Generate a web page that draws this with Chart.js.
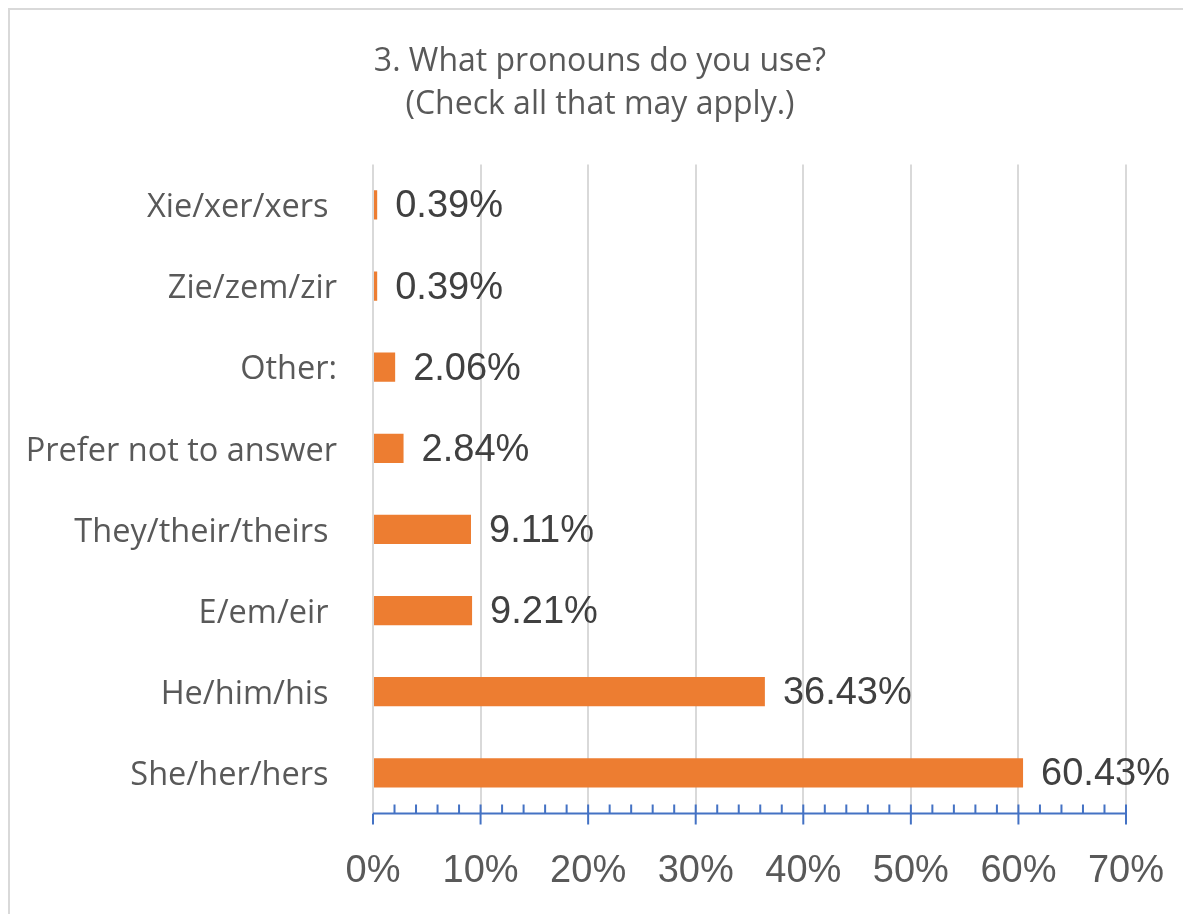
<!DOCTYPE html>
<html>
<head>
<meta charset="utf-8">
<script src="https://cdn.jsdelivr.net/npm/chart.js@4/dist/chart.umd.min.js"></script>
<style>
  html, body { margin: 0; padding: 0; background: #fff; overflow: hidden; }
  #frame { position: absolute; left: 8px; top: 8px; width: 1200px; height: 950px; border: 2px solid #d9d9d9; box-sizing: border-box; }
  #chart { position: absolute; left: 0; top: 0; }
</style>
</head>
<body>
<div id="frame"></div>
<canvas id="chart" width="1183" height="914"></canvas>
<script>
const titleLines = ['3. What pronouns do you use?', '(Check all that may apply.)']
// some of the original labels carry a trailing space
const categories = ['Xie/xer/xers ', 'Zie/zem/zir', 'Other:', 'Prefer not to answer', 'They/their/theirs ', 'E/em/eir ', 'He/him/his ', 'She/her/hers ']
const percentages = [0.39, 0.39, 2.06, 2.84, 9.11, 9.21, 36.43, 60.43]
const axisMax = 70

const orange = '#ED7D31'
const axisBlue = '#4472C4'

// value labels right of each bar
const barLabels = {
    id: 'barLabels',
    afterDatasetsDraw(chart) {
        const ctx = chart.ctx
        const meta = chart.getDatasetMeta(0)
        ctx.save()
        ctx.font = '38px "Liberation Sans", Arial, sans-serif'
        ctx.fillStyle = '#404040'
        ctx.textAlign = 'left'
        ctx.textBaseline = 'middle'
        meta.data.forEach((bar, i) => {
            ctx.fillText(percentages[i].toFixed(2) + '%', bar.x + 18, bar.y + 2)
        })
        ctx.restore()
    }
}

// blue axis line with major + minor ticks
const axisTicks = {
    id: 'axisTicks',
    afterDraw(chart) {
        const ctx = chart.ctx
        const x = chart.scales.x
        const y0 = chart.chartArea.bottom
        ctx.save()
        ctx.strokeStyle = axisBlue
        ctx.lineWidth = 2
        ctx.beginPath()
        ctx.moveTo(x.getPixelForValue(0), y0)
        ctx.lineTo(x.getPixelForValue(axisMax), y0)
        for (let v = 0; v <= axisMax; v += 2) {
            const px = x.getPixelForValue(v)
            if (v % 10 === 0) {
                ctx.moveTo(px, v === 0 ? y0 : y0 - 9)
                ctx.lineTo(px, y0 + 11)
            } else {
                ctx.moveTo(px, y0 - 9)
                ctx.lineTo(px, y0)
            }
        }
        ctx.stroke()
        ctx.restore()
    }
}

new Chart(document.getElementById('chart'), {
    type: 'bar',
    data: {
        labels: categories,
        datasets: [{
            data: percentages,
            backgroundColor: orange,
            borderWidth: 0,
            categoryPercentage: 1,
            barPercentage: 0.36
        }]
    },
    options: {
        indexAxis: 'y',
        responsive: false,
        animation: false,
        layout: { padding: { left: 17, right: 0, top: 22, bottom: 0 } },
        plugins: {
            legend: { display: false },
            tooltip: { enabled: false },
            title: {
                display: true,
                text: titleLines,
                color: '#595959',
                font: { family: '"Open Sans", sans-serif', size: 32, weight: 'normal', lineHeight: 1.35 },
                padding: { top: 18, bottom: 38 }
            }
        },
        scales: {
            x: {
                min: 0,
                max: axisMax,
                border: { display: false },
                grid: { color: '#d9d9d9', lineWidth: 2, drawTicks: false },
                ticks: {
                    stepSize: 10,
                    padding: 35,
                    color: '#595959',
                    font: { family: '"Liberation Sans", Arial, sans-serif', size: 38 },
                    callback: (v) => v + '%'
                },
                afterFit: (scale) => {
                    scale.height = 100.6
                    scale.paddingLeft = 0
                    scale.paddingRight = 0
                }
            },
            y: {
                border: { display: false },
                grid: { display: false, drawTicks: false },
                ticks: {
                    padding: 36,
                    labelOffset: 3,
                    color: '#595959',
                    font: { family: '"Open Sans", sans-serif', size: 32.5 }
                },
                afterFit: (scale) => { scale.width = 356 }
            },
            // empty right axis, only keeps room for the last value label
            yRight: {
                type: 'category',
                position: 'right',
                labels: categories,
                border: { display: false },
                grid: { display: false, drawTicks: false },
                ticks: { display: false },
                afterFit: (scale) => { scale.width = 57 }
            }
        }
    },
    plugins: [barLabels, axisTicks]
})
</script>
</body>
</html>
